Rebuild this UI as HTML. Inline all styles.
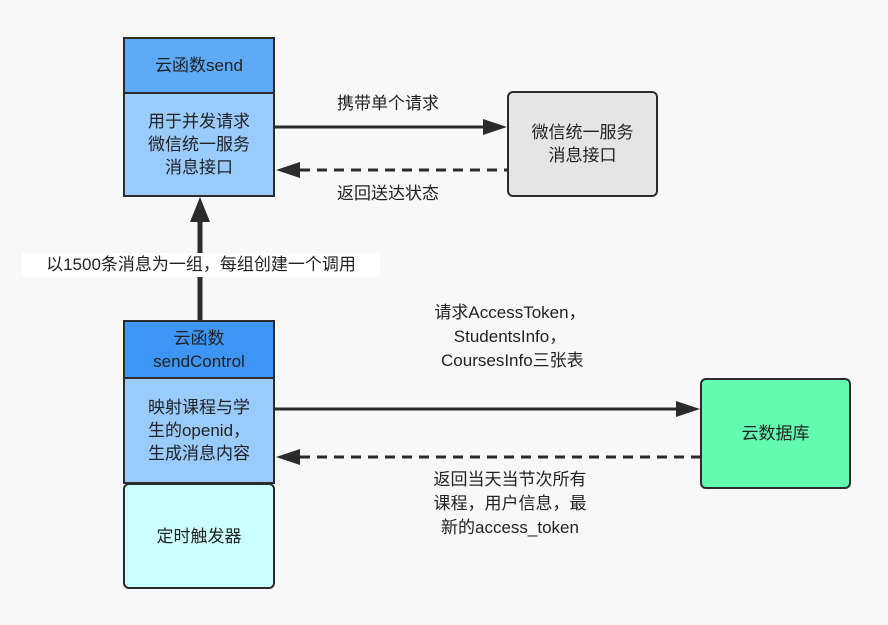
<!DOCTYPE html>
<html><head><meta charset="utf-8"><style>
body{margin:0;width:888px;height:625px;background:#f8f8f8;font-family:"Liberation Sans","Noto Sans CJK SC",sans-serif;position:relative;overflow:hidden;color:#222}
.b{position:absolute;box-sizing:border-box;border:2px solid #2b2b2b;display:flex;align-items:center;justify-content:center;text-align:center;font-size:17px;line-height:23px}
.t{position:absolute;font-size:17px;line-height:24px;text-align:center;color:#222}
</style></head><body>
<div class="b" style="left:123px;top:37px;width:152px;height:57px;background:#5eaaf7">云函数send</div>
<div class="b" style="left:123px;top:92px;width:152px;height:105px;background:#99cbfd">用于并发请求<br>微信统一服务<br>消息接口</div>
<div class="b" style="left:507px;top:91px;width:151px;height:106px;background:#e5e5e5;border-radius:6px">微信统一服务<br>消息接口</div>
<div class="b" style="left:123px;top:320px;width:152px;height:59px;background:#3d95f5">云函数<br>sendControl</div>
<div class="b" style="left:123px;top:377px;width:152px;height:107px;background:#99cbfd">映射课程与学<br>生的openid，<br>生成消息内容</div>
<div class="b" style="left:123px;top:483px;width:152px;height:106px;background:#ccffff;border-radius:6px">定时触发器</div>
<div class="b" style="left:700px;top:378px;width:151px;height:111px;background:#63fbb0;border-radius:6px">云数据库</div>
<svg width="888" height="625" style="position:absolute;left:0;top:0">
<g stroke="#2b2b2b" stroke-width="3" fill="#2b2b2b">
<line x1="275" y1="127" x2="485" y2="127"/><polygon points="507,127 483,119 483,135" stroke="none"/>
<line x1="300" y1="170" x2="507" y2="170" stroke-dasharray="10,7"/><polygon points="276,170 300,162 300,178" stroke="none"/>
<line x1="200" y1="320" x2="200" y2="220" stroke-width="5"/><polygon points="200,197 190,222 210,222" stroke="none"/>
<line x1="275" y1="409" x2="678" y2="409"/><polygon points="700,409 676,401 676,417" stroke="none"/>
<line x1="300" y1="457" x2="700" y2="457" stroke-dasharray="10,7"/><polygon points="276,457 300,449 300,465" stroke="none"/>
</g></svg>
<div class="t" style="left:290px;top:92px;width:196px">携带单个请求</div>
<div class="t" style="left:290px;top:182px;width:196px">返回送达状态</div>
<div class="t" style="left:22px;top:253px;width:358px;background:#fff">以1500条消息为一组，每组创建一个调用</div>
<div class="t" style="left:390px;top:301px;width:240px">请求AccessToken，<br>StudentsInfo，<br>&nbsp;CoursesInfo三张表</div>
<div class="t" style="left:390px;top:468px;width:240px">返回当天当节次所有<br>课程，用户信息，最<br>新的access_token</div>
</body></html>
